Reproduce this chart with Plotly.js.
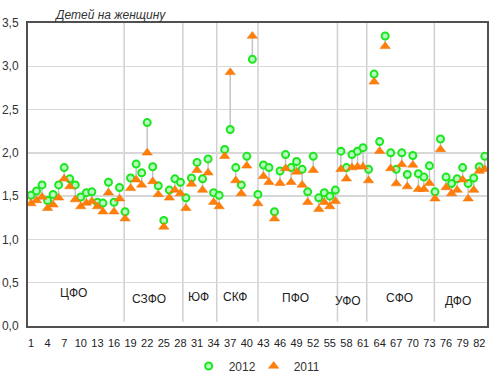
<!DOCTYPE html>
<html><head><meta charset="utf-8">
<script src="https://cdn.plot.ly/plotly-3.0.1.min.js"></script>
<style>html,body{margin:0;padding:0;background:#fff}#chart{width:500px;height:382px}</style>
</head><body><div id="chart"></div>
<script>
// Total fertility rate (children per woman) by region
const tfr2012 = [1.51,1.56,1.63,1.45,1.52,1.63,1.83,1.70,1.63,1.49,1.54,1.55,1.43,1.42,1.66,1.43,1.60,1.32,
  1.71,1.87,1.77,2.35,1.84,1.62,1.22,1.57,1.70,1.66,1.48,
  1.71,1.89,1.70,1.93,1.54,1.51,
  2.04,2.27,1.83,1.63,1.96,3.08,1.52,
  1.86,1.83,1.32,1.79,1.98,1.83,1.90,1.81,1.55,1.96,1.48,1.54,1.50,1.57,
  2.02,1.83,1.98,2.02,2.06,1.81,
  2.91,2.13,3.35,2.00,1.81,2.00,1.75,1.97,1.76,1.72,1.85,1.55,
  2.16,1.72,1.645,1.70,1.83,1.645,1.71,1.84,1.96];
const tfr2011 = [1.415,1.45,1.49,1.36,1.40,1.48,1.70,1.61,1.46,1.38,1.42,1.44,1.38,1.32,1.54,1.32,1.47,1.24,
  1.59,1.69,1.63,2.00,1.67,1.52,1.145,1.48,1.57,1.53,1.36,
  1.64,1.80,1.57,1.77,1.43,1.38,
  1.96,2.93,1.68,1.53,1.85,3.35,1.415,
  1.73,1.66,1.24,1.65,1.82,1.66,1.78,1.63,1.43,1.80,1.35,1.43,1.38,1.44,
  1.81,1.70,1.83,1.84,1.84,1.68,
  2.82,2.02,3.23,1.82,1.645,1.865,1.61,1.86,1.58,1.58,1.65,1.47,
  2.04,1.60,1.53,1.57,1.69,1.47,1.57,1.79,1.81];
const regions = tfr2012.map((_, i) => i + 1);
const xTickValues = [1,4,7,10,13,16,19,22,25,28,31,34,37,40,43,46,49,52,55,58,61,64,67,70,73,76,79,82];
const yTickValues = [0,0.5,1,1.5,2,2.5,3,3.5];
const yTickLabels = ['0,0','0,5','1,0','1,5','2,0','2,5','3,0','3,5'];
const districts = ['ЦФО','СЗФО','ЮФ','СКФ','ПФО','УФО','СФО','ДФО'];
const seriesNames = ['2012','2011'];
const yTitle = 'Детей на женщину';

// layout constants (positions, not data)
const districtLabelPos = [[8.66,0.38],[22.24,0.31],[31.3,0.33],[37.94,0.33],[48.8,0.32],[58.2,0.29],[67.6,0.32],[78.1,0.29]];
const separatorPos = [17.84,28.44,34.56,42.02,56.38,61.67,73.89];

const connX = regions.flatMap(r => [r, r, null]);
const connY = regions.flatMap((r, i) => [tfr2012[i], tfr2011[i], null]);

const traces = [
  {x: connX, y: connY, mode: 'lines', line: {color: '#c4c4c4', width: 1.5}, showlegend: false, hoverinfo: 'skip'},
  {x: regions, y: tfr2012, name: seriesNames[0], mode: 'markers', type: 'scatter',
   marker: {symbol: 'circle', size: 7, color: '#b4ffc0', line: {color: '#1ee61e', width: 2}}},
  {x: regions, y: tfr2011, name: seriesNames[1], mode: 'markers', type: 'scatter',
   marker: {symbol: 'triangle-up', size: 9, color: '#ff7f0a', line: {color: '#f07000', width: 0.5}}}
];

const shapes = separatorPos.map(p => ({type: 'line', xref: 'x', yref: 'y', x0: p, x1: p, y0: 0.05, y1: 3.5,
  line: {color: '#d0d0d0', width: 1.5}, layer: 'below'}));

const annotations = districts.map((d, i) => ({text: d, x: districtLabelPos[i][0], y: districtLabelPos[i][1],
  xref: 'x', yref: 'y', showarrow: false, font: {size: 12, color: '#222'}}));
annotations.push({text: '<i>' + yTitle + '</i>', xref: 'paper', yref: 'paper', x: 0.052, y: 1.026,
  xanchor: 'left', yanchor: 'middle', showarrow: false, font: {size: 12, color: '#333'}});

const layout = {
  width: 500, height: 382,
  margin: {l: 28, r: 13, t: 23, b: 56, autoexpand: false},
  paper_bgcolor: '#fff', plot_bgcolor: '#fff',
  font: {family: '"Liberation Sans", Arial, sans-serif', color: '#333'},
  xaxis: {range: [0.46, 83.4], tickvals: xTickValues, ticktext: xTickValues.map(String), showgrid: false, zeroline: false,
    showline: true, mirror: true, linecolor: '#505050', linewidth: 2, ticks: '', tickfont: {size: 11, color: '#222'},
    ticklabelstandoff: 6, automargin: false},
  yaxis: {range: [0, 3.5], tickvals: yTickValues, ticktext: yTickLabels, showgrid: true, gridcolor: '#d8d8d8', gridwidth: 1.5,
    zeroline: false, showline: true, mirror: true, linecolor: '#505050', linewidth: 2, ticks: '',
    tickfont: {size: 12, color: '#333'}, ticklabelstandoff: 5, automargin: false},
  showlegend: true,
  legend: {orientation: 'h', x: 0.35, xanchor: 'left', y: -0.132, yanchor: 'middle', font: {size: 12, color: '#333'},
    entrywidth: 20, entrywidthmode: 'pixels', bgcolor: 'rgba(0,0,0,0)'},
  shapes: shapes,
  annotations: annotations
};

Plotly.newPlot('chart', traces, layout, {staticPlot: true, displayModeBar: false});
</script>
</body></html>
